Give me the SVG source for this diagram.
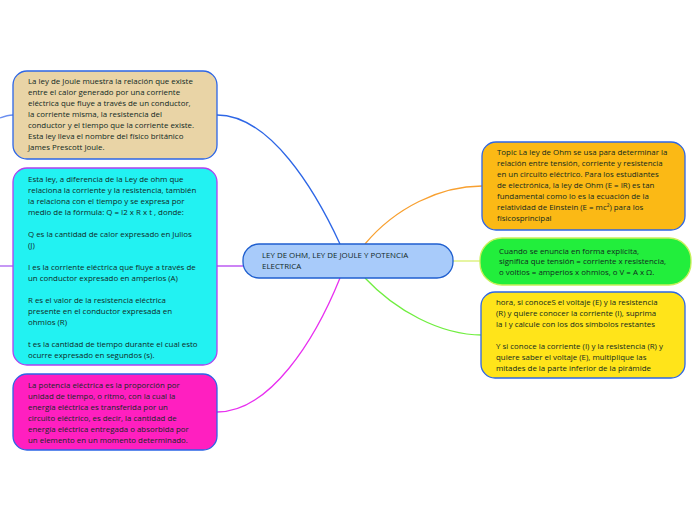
<svg xmlns="http://www.w3.org/2000/svg" width="696" height="520" viewBox="0 0 696 520">
<style>
text{font-family:"Open Sans","Noto Sans","Liberation Sans",sans-serif;font-size:7.9px;fill:#10291f}
.c{fill:none;stroke-width:1.3}
</style>
<rect width="696" height="520" fill="#fff"/>
<g id="connectors">
<path class="c" d="M0,118 C5,116 9,115 13,115" stroke="#6a8ef0"/>
<path class="c" d="M0,266 L13,266" stroke="#a860f0"/>
<path class="c" d="M217,115 C270,115 315,190 340,244" stroke="#2d66e6"/>
<path class="c" d="M217,266 L243,266" stroke="#b040f0"/>
<path class="c" d="M340,278 C315,340 270,412 217,412" stroke="#e830f0"/>
<path class="c" d="M365,244 C395,208 440,186 482,186" stroke="#f8a030"/>
<path class="c" d="M453,261 L480,261" stroke="#d8f070"/>
<path class="c" d="M365,278 C395,310 440,335 482,335" stroke="#70ee40"/>
</g>
<g id="n_joule">
<rect x="13" y="71" width="204" height="88" rx="14" fill="#e9d4a6" stroke="#2d66e6" stroke-width="1.3"/>
<text x="28" y="84">La ley de Joule muestra la relación que existe</text>
<text x="28" y="95">entre el calor generado por una corriente</text>
<text x="28" y="106">eléctrica que fluye a través de un conductor,</text>
<text x="28" y="117">la corriente misma, la resistencia del</text>
<text x="28" y="128">conductor y el tiempo que la corriente existe.</text>
<text x="28" y="139">Esta ley lleva el nombre del físico británico</text>
<text x="28" y="150">James Prescott Joule.</text>
</g>
<g id="n_formula">
<rect x="13" y="168" width="204" height="197" rx="14" fill="#22f2f2" stroke="#b040f0" stroke-width="1.3"/>
<text x="28" y="182">Esta ley, a diferencia de la Ley de ohm que</text>
<text x="28" y="193">relaciona la corriente y la resistencia, también</text>
<text x="28" y="204">la relaciona con el tiempo  y se expresa por</text>
<text x="28" y="215">medio de la fórmula: Q = I2 x R x t , donde:</text>
<text x="28" y="237">Q es la cantidad de calor expresado en Julios</text>
<text x="28" y="248">(J)</text>
<text x="28" y="270">I es la corriente eléctrica que fluye a través de</text>
<text x="28" y="281">un conductor expresado en amperios (A)</text>
<text x="28" y="303">R es el valor de la resistencia eléctrica</text>
<text x="28" y="314">presente en el conductor expresada en</text>
<text x="28" y="325">ohmios (R)</text>
<text x="28" y="347">t es la cantidad de tiempo durante el cual esto</text>
<text x="28" y="358">ocurre expresado en segundos (s).</text>
</g>
<g id="n_potencia">
<rect x="13" y="374" width="204" height="76" rx="14" fill="#ff1fc0" stroke="#2d66e6" stroke-width="1.3"/>
<text x="28" y="388">La potencia eléctrica es la proporción por</text>
<text x="28" y="399">unidad de tiempo, o ritmo, con la cual la</text>
<text x="28" y="410">energía eléctrica es transferida por un</text>
<text x="28" y="421">circuito eléctrico, es decir, la cantidad de</text>
<text x="28" y="432">energía eléctrica entregada o absorbida por</text>
<text x="28" y="443">un elemento en un momento determinado.</text>
</g>
<g id="n_center">
<rect x="243" y="244" width="210" height="34" rx="16" fill="#a8cbfa" stroke="#1f5fcf" stroke-width="1.3"/>
<text x="262" y="258">LEY DE OHM, LEY DE JOULE Y POTENCIA</text>
<text x="262" y="269">ELECTRICA</text>
</g>
<g id="n_ohm">
<rect x="482" y="142" width="203" height="88" rx="14" fill="#fbb915" stroke="#2d66e6" stroke-width="1.3"/>
<text x="497" y="155">Topic La ley de Ohm se usa para determinar la</text>
<text x="497" y="166">relación entre tensión, corriente y resistencia</text>
<text x="497" y="177">en un circuito eléctrico. Para los estudiantes</text>
<text x="497" y="188">de electrónica, la ley de Ohm (E = IR) es tan</text>
<text x="497" y="199">fundamental como lo es la ecuación de la</text>
<text x="497" y="210">relatividad de Einstein (E = mc²) para los</text>
<text x="497" y="221">físicosprincipal</text>
</g>
<g id="n_explicita">
<rect x="480" y="238" width="211" height="47" rx="22" fill="#22ee3c" stroke="#c8f05a" stroke-width="1.3"/>
<text x="499" y="253.5">Cuando se enuncia en forma explícita,</text>
<text x="499" y="264">significa que tensión = corriente x resistencia,</text>
<text x="499" y="274.5">o voltios = amperios x ohmios, o V = A x Ω.</text>
</g>
<g id="n_piramide">
<rect x="481" y="292" width="204" height="86" rx="14" fill="#ffe41a" stroke="#2d66e6" stroke-width="1.3"/>
<text x="496" y="304.5">hora, si conoceS el voltaje (E) y la resistencia</text>
<text x="496" y="315.5">(R) y quiere conocer la corriente (I), suprima</text>
<text x="496" y="326.5">la I y calcule con los dos símbolos restantes</text>
<text x="496" y="348.5">Y si conoce la corriente (I) y la resistencia (R) y</text>
<text x="496" y="359.5">quiere saber el voltaje (E), multiplique las</text>
<text x="496" y="370.5">mitades de la parte inferior de la pirámide</text>
</g>
</svg>
